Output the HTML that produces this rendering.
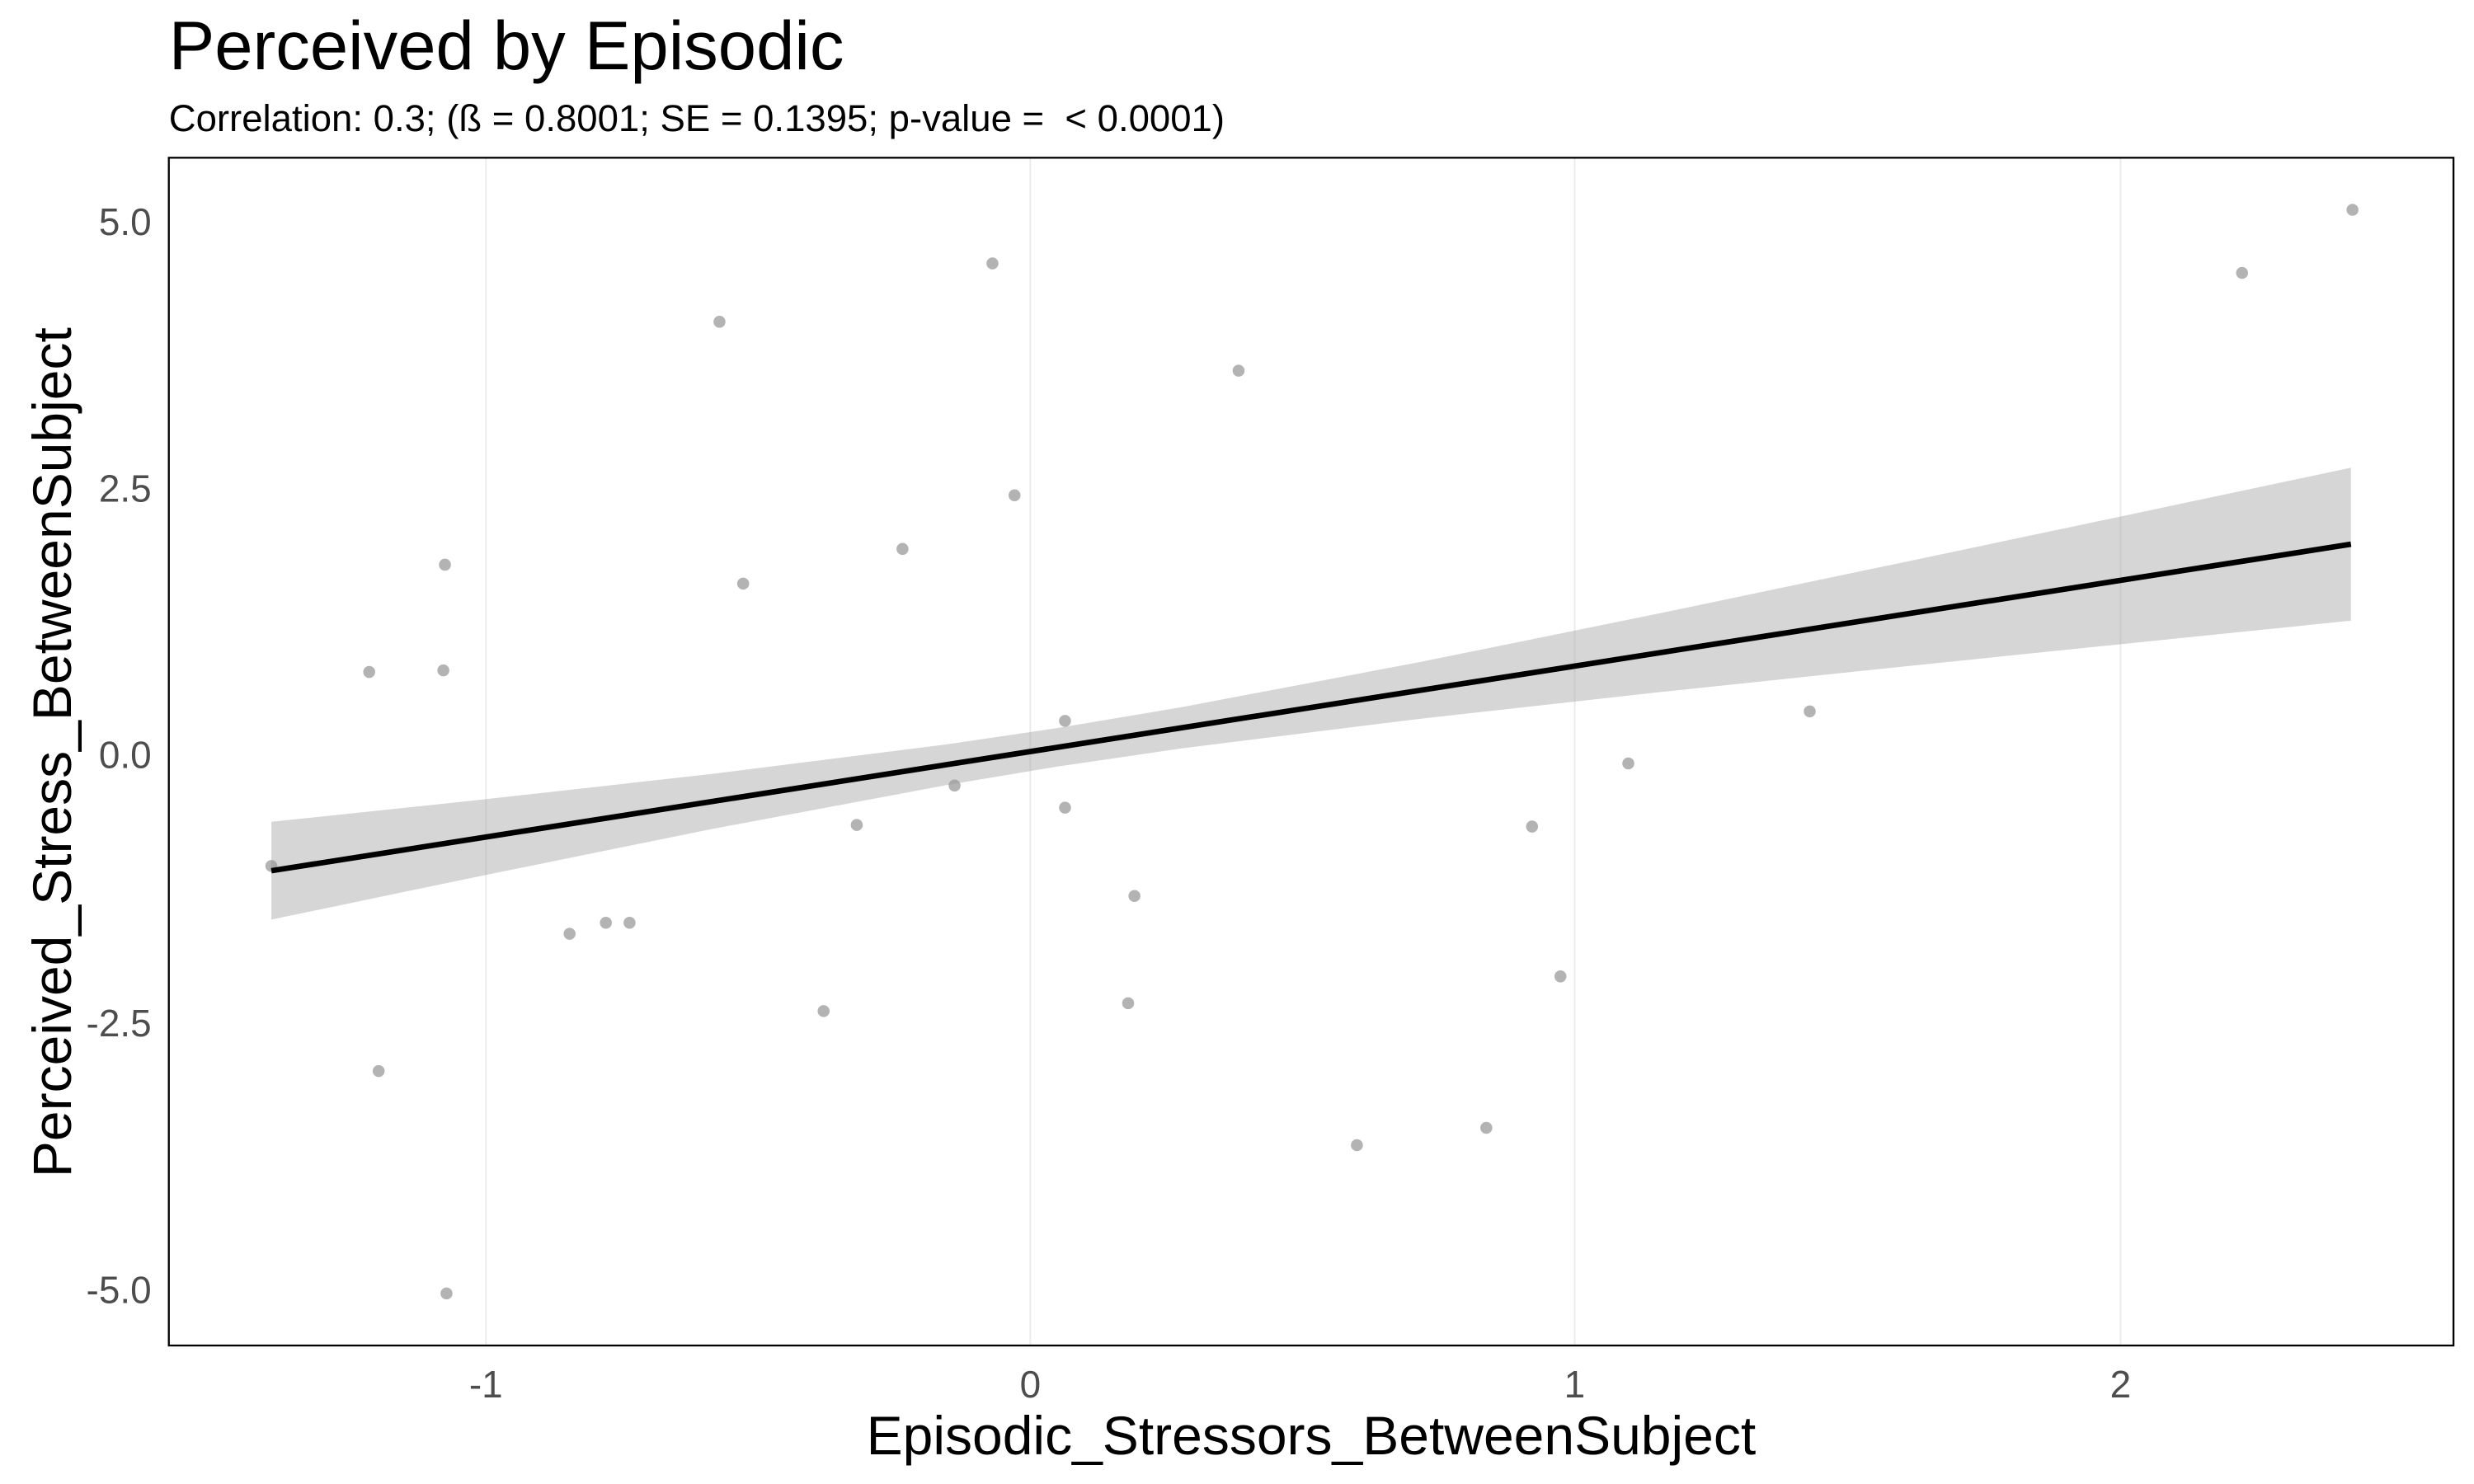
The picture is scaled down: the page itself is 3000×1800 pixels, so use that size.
<!DOCTYPE html>
<html><head><meta charset="utf-8"><style>html,body{margin:0;padding:0;background:#fff}svg{display:block}</style></head>
<body>
<svg width="3000" height="1800" viewBox="0 0 1568 940.8" xmlns="http://www.w3.org/2000/svg" font-family="Liberation Sans, Arial, sans-serif">
<rect width="1568" height="940.8" fill="#fff"/>
<text x="107" y="44" font-size="43.5" fill="#000">Perceived by Episodic</text>
<text x="107" y="83" font-size="23.8" fill="#000" xml:space="preserve">Correlation: 0.3; (ß = 0.8001; SE = 0.1395; p-value =  &lt; 0.0001)</text>
<g stroke="#ebebeb" stroke-width="1">
<line x1="308" y1="100" x2="308" y2="853"/><line x1="653" y1="100" x2="653" y2="853"/>
<line x1="998" y1="100" x2="998" y2="853"/><line x1="1344" y1="100" x2="1344" y2="853"/>
</g>
<g fill="#b3b3b3">
<circle cx="172" cy="549" r="3.8"/><circle cx="234" cy="426" r="3.8"/><circle cx="240" cy="679" r="3.8"/><circle cx="282" cy="358" r="3.8"/><circle cx="281" cy="425" r="3.8"/><circle cx="283" cy="820" r="3.8"/><circle cx="361" cy="592" r="3.8"/><circle cx="384" cy="585" r="3.8"/><circle cx="399" cy="585" r="3.8"/><circle cx="456" cy="204" r="3.8"/><circle cx="471" cy="370" r="3.8"/><circle cx="522" cy="641" r="3.8"/><circle cx="543" cy="523" r="3.8"/><circle cx="572" cy="348" r="3.8"/><circle cx="605" cy="498" r="3.8"/><circle cx="629" cy="167" r="3.8"/><circle cx="643" cy="314" r="3.8"/><circle cx="675" cy="457" r="3.8"/><circle cx="675" cy="512" r="3.8"/><circle cx="715" cy="636" r="3.8"/><circle cx="719" cy="568" r="3.8"/><circle cx="785" cy="235" r="3.8"/><circle cx="860" cy="726" r="3.8"/><circle cx="942" cy="715" r="3.8"/><circle cx="971" cy="524" r="3.8"/><circle cx="989" cy="619" r="3.8"/><circle cx="1032" cy="484" r="3.8"/><circle cx="1147" cy="451" r="3.8"/><circle cx="1421" cy="173" r="3.8"/><circle cx="1491" cy="133" r="3.8"/>
</g>
<polygon fill="#999" fill-opacity="0.4" points="172,521 300,507.5 450,490.8 600,471.9 670,461.6 750,448.1 900,419.7 1050,389.2 1200,357.8 1350,326.2 1490,296.5 1490,393.5 1350,407.8 1200,423.2 1050,439 900,455.7 750,474.3 670,486 600,497.7 450,525.8 300,556.3 172,583"/>
<line x1="172" y1="552" x2="1490" y2="345" stroke="#000" stroke-width="3.5"/>
<rect x="107" y="100" width="1448" height="753" fill="none" stroke="#000" stroke-width="1.2"/>
<g font-size="24" fill="#4d4d4d" text-anchor="end">
<text x="96" y="149">5.0</text><text x="96" y="318">2.5</text><text x="96" y="487">0.0</text><text x="96" y="657">-2.5</text><text x="96" y="826">-5.0</text>
</g>
<g font-size="24" fill="#4d4d4d" text-anchor="middle">
<text x="308" y="886">-1</text><text x="653" y="886">0</text><text x="998" y="886">1</text><text x="1344" y="886">2</text>
</g>
<text x="831" y="922" font-size="34.5" text-anchor="middle" fill="#000">Episodic_Stressors_BetweenSubject</text>
<text transform="translate(45,477) rotate(-90)" font-size="34.5" text-anchor="middle" fill="#000">Perceived_Stress_BetweenSubject</text>
</svg>
</body></html>
